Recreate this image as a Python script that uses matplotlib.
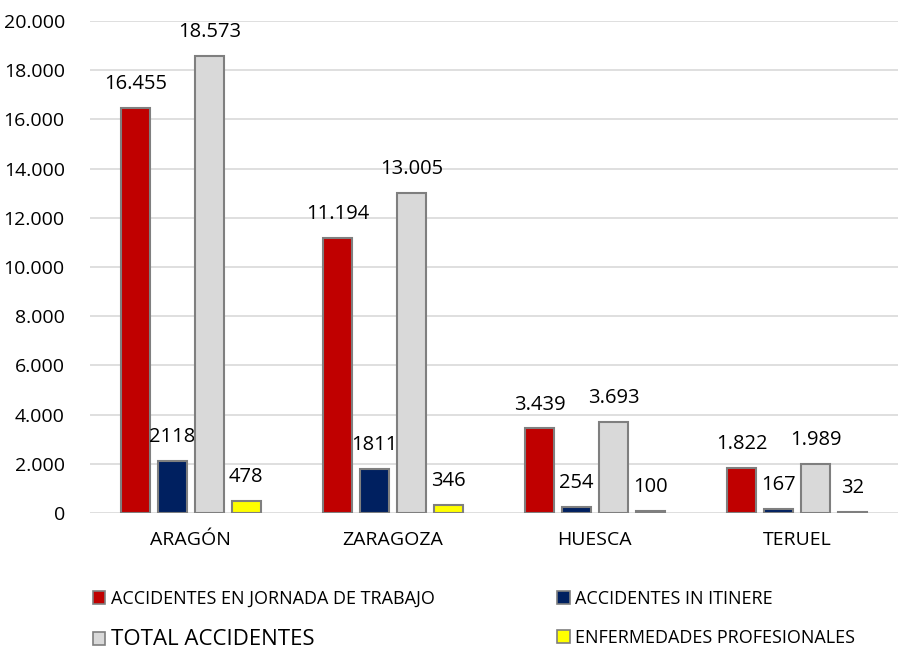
import numpy as np
import matplotlib.pyplot as plt
from matplotlib.patches import Patch

plt.rcParams['font.family'] = ['Open Sans', 'DejaVu Sans']

categories = ['ARAGÓN', 'ZARAGOZA', 'HUESCA', 'TERUEL']
series_names = ['ACCIDENTES EN JORNADA DE TRABAJO', 'ACCIDENTES IN ITINERE',
                'TOTAL ACCIDENTES', 'ENFERMEDADES PROFESIONALES']
jornada = [16455, 11194, 3439, 1822]
itinere = [2118, 1811, 254, 167]
total = [18573, 13005, 3693, 1989]
enfermedades = [478, 346, 100, 32]
jornada_lbl = ['16.455', '11.194', '3.439', '1.822']
itinere_lbl = ['2118', '1811', '254', '167']
total_lbl = ['18.573', '13.005', '3.693', '1.989']
enfermedades_lbl = ['478', '346', '100', '32']
colors = ['#c00000', '#002060', '#d9d9d9', '#ffff00']

series = [jornada, itinere, total, enfermedades]
labels = [jornada_lbl, itinere_lbl, total_lbl, enfermedades_lbl]

fig = plt.figure(figsize=(8.98, 6.52), dpi=100)
ax = fig.add_axes([0.1, 0.213, 0.9, 0.755])

x = np.arange(len(categories))
width = 0.145
step = 0.183
handles = []
for i, (vals, lbls, c) in enumerate(zip(series, labels, colors)):
    pos = x + (i - 1.5) * step
    bars = ax.bar(pos, vals, width, color=c, edgecolor='#7f7f7f', linewidth=1.5, zorder=3)
    handles.append(Patch(facecolor=c, edgecolor='#7f7f7f', linewidth=1.2))
    for b, t in zip(bars, lbls):
        ax.annotate(t, xy=(b.get_x() + b.get_width() / 2, b.get_height()),
                    xytext=(0, 10), textcoords='offset points',
                    ha='center', va='bottom', fontsize=14.5)

ax.set_xlim(-0.5, len(categories) - 0.5)
ax.set_ylim(0, 20000)
ax.set_yticks(np.arange(0, 20001, 2000))
ax.set_yticklabels([f'{v:,}'.replace(',', '.') for v in range(0, 20001, 2000)], fontsize=14)
ax.set_xticks(x)
ax.set_xticklabels(categories, fontsize=14)
ax.tick_params(axis='both', length=0, pad=13)
ax.tick_params(axis='y', pad=18)
ax.grid(axis='y', color='#d9d9d9', linewidth=1.2, zorder=0)
for s in ax.spines.values():
    s.set_visible(False)

# legend in two columns, order fills columns first
order = [0, 2, 1, 3]
leg = fig.legend([handles[k] for k in order], [series_names[k] for k in order],
                 ncol=2, loc='upper left', bbox_to_anchor=(0.085, 0.12),
                 frameon=False, fontsize=13, handlelength=0.7, handleheight=0.7,
                 handletextpad=0.3, columnspacing=6.8, labelspacing=1.15)
for t in leg.get_texts():
    if t.get_text() == 'TOTAL ACCIDENTES':
        t.set_fontsize(16)

fig.savefig('out.png', dpi=100)
